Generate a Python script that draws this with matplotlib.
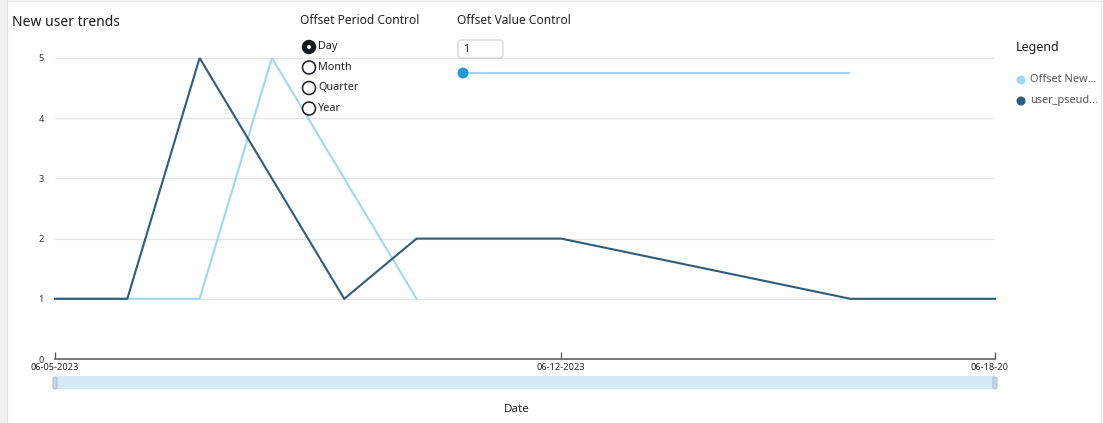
import matplotlib
matplotlib.use("Agg")
import matplotlib.pyplot as plt
import matplotlib.dates as mdates
from matplotlib.patches import Rectangle, Circle, FancyBboxPatch
from matplotlib.transforms import Bbox
import pandas as pd

plt.rcParams['font.family'] = ['Noto Sans', 'DejaVu Sans']

# ---- data ----
user_dates = ['2023-06-05', '2023-06-06', '2023-06-07', '2023-06-09', '2023-06-10',
              '2023-06-11', '2023-06-12', '2023-06-16', '2023-06-17', '2023-06-18']
user_counts = [1, 1, 5, 1, 2, 2, 2, 1, 1, 1]

offset_dates = ['2023-06-05', '2023-06-06', '2023-06-07', '2023-06-08', '2023-06-10']
offset_counts = [1, 1, 1, 5, 1]

x_ticks = ['2023-06-05', '2023-06-12', '2023-06-18']
y_ticks = [0, 1, 2, 3, 4, 5]
period_options = ['Day', 'Month', 'Quarter', 'Year']
selected_period = 'Day'
offset_value = 1
legend_labels = ['Offset New…', 'user_pseud…']

DARK = '#2d5d7b'
LIGHT = '#9fd9ee'

W, H = 1103, 423
fig = plt.figure(figsize=(W / 100, H / 100), dpi=100)
fig.patch.set_facecolor('white')


def fx(px):
    return px / W


def fy(py):
    return 1 - py / H


# ---- main line chart ----
L, R, T, B = 55, 995, 58, 359
ax = fig.add_axes([fx(L), fy(B), fx(R - L), (B - T) / H])
ud = pd.to_datetime(user_dates)
od = pd.to_datetime(offset_dates)
ax.plot(od, offset_counts, color=LIGHT, lw=1.5, clip_on=False, zorder=3,
        solid_joinstyle='miter')
ax.plot(ud, user_counts, color=DARK, lw=1.5, clip_on=False, zorder=4,
        solid_joinstyle='miter')

ax.set_xlim(pd.Timestamp(x_ticks[0]), pd.Timestamp(x_ticks[-1]))
ax.set_ylim(0, 5)
ax.set_yticks(y_ticks)
ax.set_xticks(pd.to_datetime(x_ticks))
ax.xaxis.set_major_formatter(mdates.DateFormatter('%m-%d-%Y'))
for s in ['top', 'right', 'left']:
    ax.spines[s].set_visible(False)
ax.spines['bottom'].set_color('#555555')
ax.spines['bottom'].set_linewidth(1.1)
ax.grid(axis='y', color='#e4e4e4', lw=0.9)
ax.set_axisbelow(True)
ax.tick_params(axis='y', length=0, pad=8, labelsize=6.6, labelcolor='#333333')
ax.tick_params(axis='x', direction='in', length=5, width=0.9, color='#555555',
               pad=3, labelsize=6.6, labelcolor='#222222')

# clip the last date label at the panel edge
fig.canvas.draw()
clip_bb = Bbox.from_extents(0, 0, 1008, H)
for lab in ax.get_xticklabels():
    lab.set_clip_on(True)
    lab.set_clip_box(clip_bb)

# ---- overlay in pixel coordinates ----
ov = fig.add_axes([0, 0, 1, 1], zorder=10)
ov.set_xlim(0, W)
ov.set_ylim(H, 0)
ov.axis('off')
ov.patch.set_alpha(0)

# panel frame
ov.add_patch(Rectangle((0, 0), 7, H, color='#f1f1f1', lw=0))
ov.plot([7, 7], [0, H], color='#e2e2e2', lw=0.8)
ov.plot([7, W], [1, 1], color='#e6e6e6', lw=1)
ov.plot([W - 2, W - 2], [0, H], color='#ececec', lw=1)

# title
ov.text(12, 22, 'New user trends', fontsize=10, color='#16191f', va='center', ha='left')

# period control
ov.text(300, 21, 'Offset Period Control', fontsize=8.6, color='#222222', va='center')
for i, opt in enumerate(period_options):
    cy = 47 + i * 20.5
    if opt == selected_period:
        ov.add_patch(Circle((309, cy), 6.5, facecolor='#16191f', edgecolor='#16191f', lw=1))
        ov.add_patch(Circle((309, cy), 2, facecolor='white', lw=0))
    else:
        ov.add_patch(Circle((309, cy), 6.5, facecolor='white', edgecolor='#16191f', lw=1.1))
    ov.text(318, cy, opt, fontsize=7.8, color='#222222', va='center')

# value control
ov.text(457, 21, 'Offset Value Control', fontsize=8.6, color='#222222', va='center')
ov.add_patch(FancyBboxPatch((458, 40), 45, 18, boxstyle='round,pad=0,rounding_size=3',
                            facecolor='white', edgecolor='#d0d0d0', lw=0.8))
ov.text(463, 49.5, str(offset_value), fontsize=7.8, color='#222222', va='center')
ov.plot([463, 850], [73, 73], color='#a5d3ea', lw=1.6, solid_capstyle='butt', zorder=2)
ov.add_patch(Circle((463, 73), 5.5, facecolor='#249ad6', lw=0, zorder=3))

# legend
ov.text(1016, 48, 'Legend', fontsize=9, color='#16191f', va='center')
for i, (lab, col) in enumerate(zip(legend_labels, [LIGHT, DARK])):
    cy = 80 + i * 21
    ov.add_patch(Circle((1021, cy), 4.5, facecolor=col, lw=0))
    ov.text(1030, cy, lab, fontsize=7.9, color='#555555', va='center')

# range slider under the axis
ov.add_patch(Rectangle((L, 376), R - L, 13, facecolor='#d3e9f5', lw=0))
for hx in (L, R):
    ov.add_patch(FancyBboxPatch((hx - 2, 377), 4, 12, boxstyle='round,pad=0,rounding_size=2',
                                facecolor='#c5d8ea', edgecolor='#9fb6cc', lw=0.6))

# axis title
ov.text(517, 410, 'Date', fontsize=8.4, color='#222222', ha='center', va='center')

fig.savefig('out.png', dpi=100, facecolor='white')
